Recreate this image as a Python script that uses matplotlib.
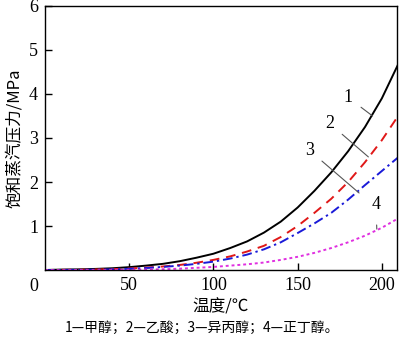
import numpy as np
import matplotlib
matplotlib.use('Agg')
import matplotlib.pyplot as plt

plt.rcParams['font.family'] = ['Liberation Serif', 'Noto Sans CJK SC']
plt.rcParams['mathtext.fontset'] = 'stix'

# 温度 / ℃
temp = [0, 10, 20, 30, 40, 50, 60, 70, 80, 90, 100, 110, 120, 130, 140, 150, 160, 170, 180, 190, 200, 210]
# 饱和蒸汽压力 / MPa
methanol = [0.0, 0.01, 0.015, 0.025, 0.04, 0.065, 0.1, 0.14, 0.2, 0.28, 0.37, 0.5, 0.65, 0.85,
            1.1, 1.42, 1.8, 2.22, 2.7, 3.25, 3.9, 4.7]
acetic = [0.0, 0.003, 0.006, 0.012, 0.02, 0.035, 0.055, 0.08, 0.115, 0.165, 0.23, 0.31, 0.42, 0.55,
          0.75, 1.0, 1.3, 1.62, 2.0, 2.45, 2.95, 3.52]
ipa = [0.0, 0.002, 0.004, 0.008, 0.015, 0.028, 0.045, 0.07, 0.1, 0.14, 0.19, 0.26, 0.35, 0.47,
       0.63, 0.84, 1.06, 1.3, 1.6, 1.93, 2.25, 2.57]
butanol = [0.0, 0.0, 0.001, 0.002, 0.003, 0.005, 0.01, 0.018, 0.03, 0.05, 0.07, 0.1, 0.13, 0.17,
           0.23, 0.3, 0.39, 0.5, 0.63, 0.78, 0.96, 1.18]

cjk = ['Noto Sans CJK SC', 'Liberation Serif']

fig = plt.figure(figsize=(4.0, 3.42), dpi=100)
ax = fig.add_axes([0.1125, 0.2105, 0.88, 0.772])

ax.plot(temp, methanol, color='black', lw=1.4, ls='-')
ax.plot(temp, acetic, color='#e01818', lw=1.4, ls=(0, (5, 3.5)))
ax.plot(temp, ipa, color='#1a1ad8', lw=1.4, ls=(0, (5, 2, 1.2, 2)))
ax.plot(temp, butanol, color='#e030e0', lw=1.4, ls=(0, (1.5, 1.5)))

# 曲线编号和引线
gray = '#555555'
ax.annotate('1', xy=(194.5, 3.5), xytext=(180, 3.92), fontsize=13, ha='center', va='center',
            arrowprops=dict(arrowstyle='-', color=gray, lw=0.8, shrinkA=5, shrinkB=0))
ax.annotate('2', xy=(192, 2.57), xytext=(169, 3.33), fontsize=13, ha='center', va='center',
            arrowprops=dict(arrowstyle='-', color=gray, lw=0.8, shrinkA=5, shrinkB=0))
ax.annotate('3', xy=(186.5, 1.75), xytext=(157, 2.72), fontsize=13, ha='center', va='center',
            arrowprops=dict(arrowstyle='-', color=gray, lw=0.8, shrinkA=5, shrinkB=0))
ax.annotate('4', xy=(197, 0.93), xytext=(196.5, 1.5), fontsize=13, ha='center', va='center',
            arrowprops=dict(arrowstyle='-', color=gray, lw=0.8, shrinkA=7, shrinkB=0))

ax.set_xlim(0, 209)
ax.set_ylim(0, 6)
ax.set_xticks([50, 100, 150, 200])
ax.set_yticks([1, 2, 3, 4, 5, 6])
ax.tick_params(direction='in', length=5, width=1, labelsize=13, top=False, right=False, pad=5)
for sp in ax.spines.values():
    sp.set_linewidth(1.0)
ax.text(-0.02, -0.03, '0', transform=ax.transAxes, fontsize=13, ha='right', va='top')

ax.set_xlabel('温度/℃', family=cjk, fontsize=12, labelpad=3)
ax.set_ylabel('饱和蒸汽压力/MPa', family=cjk, fontsize=12, labelpad=4)

fig.text(0.505, 0.04, '1—甲醇；2—乙酸；3—异丙醇；4—正丁醇。', family=cjk, fontsize=10,
         ha='center', va='center')

fig.savefig('out.png', dpi=100)
